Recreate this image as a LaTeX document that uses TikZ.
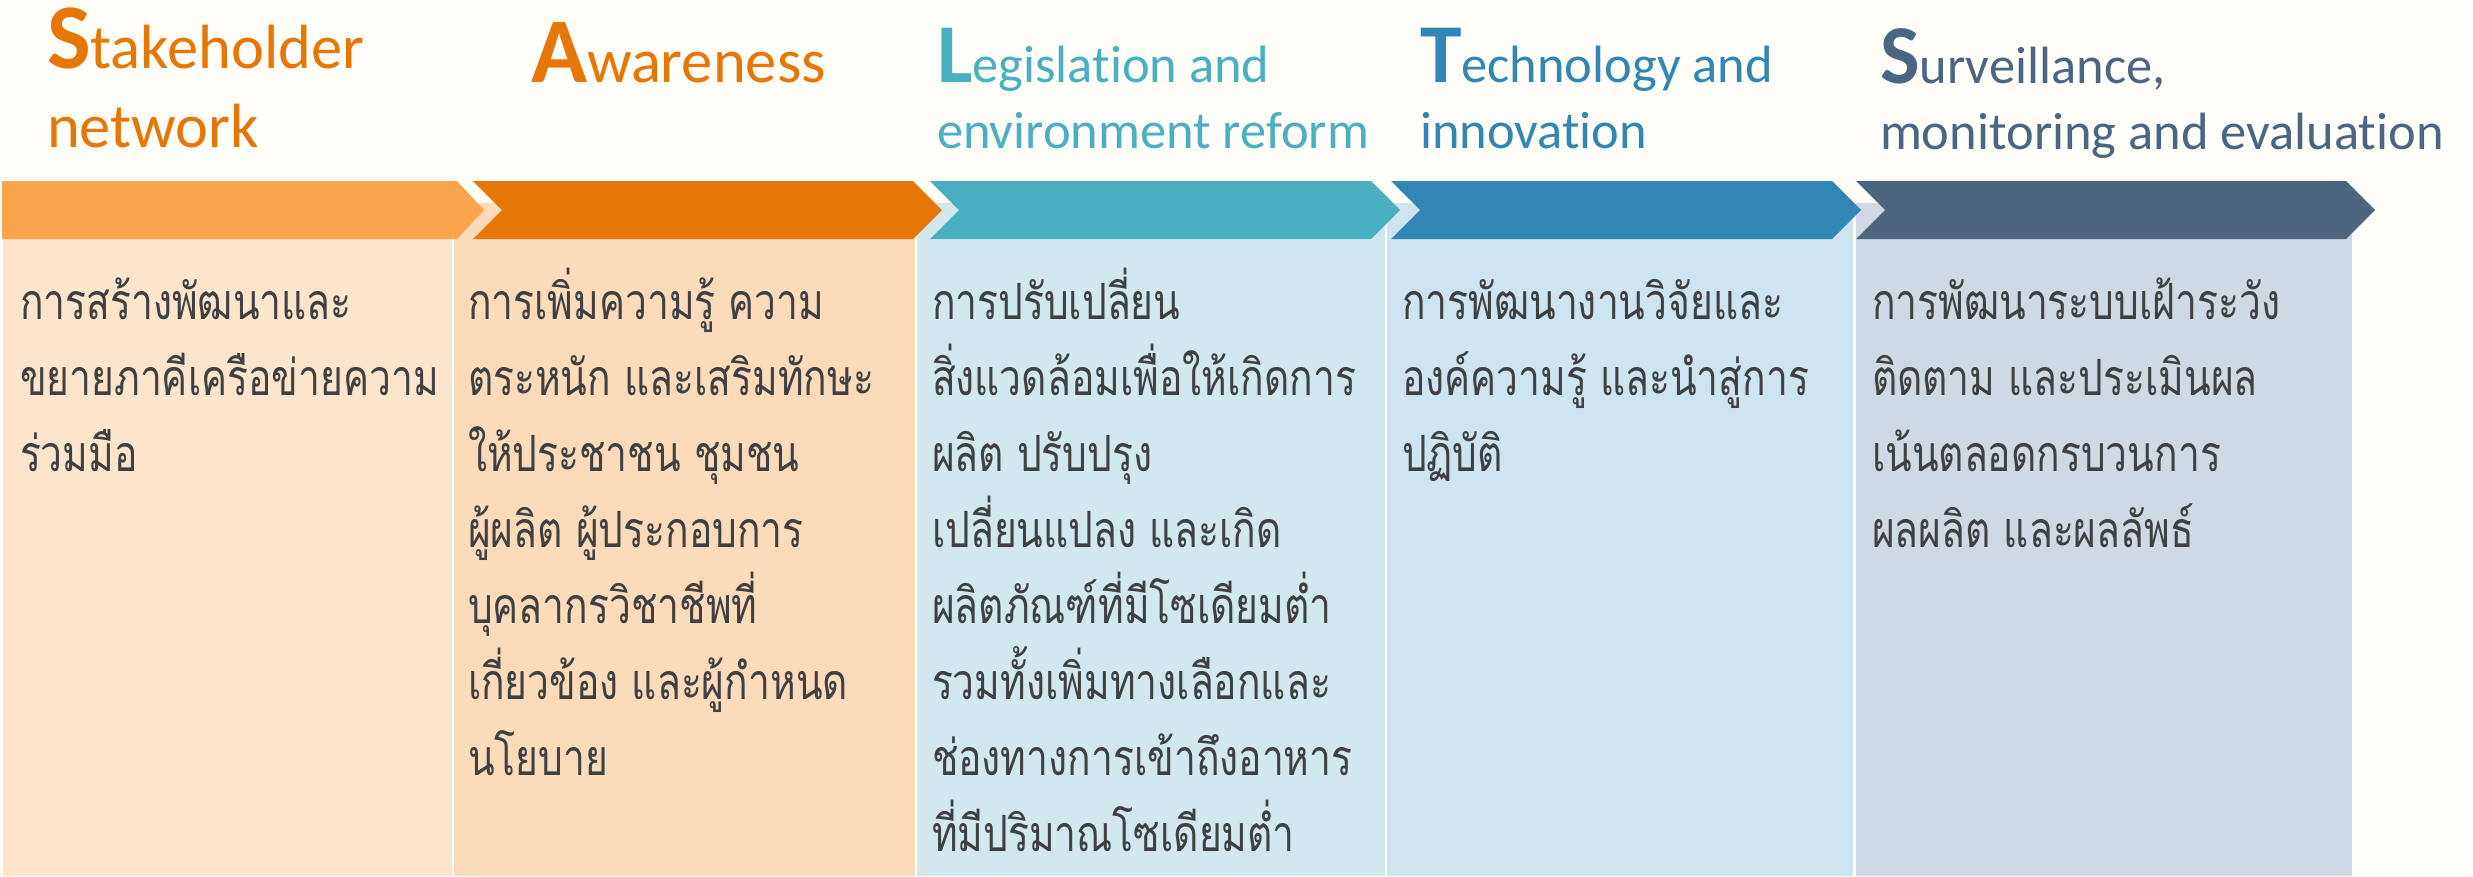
\documentclass[tikz,border=0pt]{standalone}
\usepackage{fontspec}
\setmainfont{Carlito}[Ligatures=NoCommon]
\newfontfamily\thaifont[Script=Thai,FakeStretch=0.78]{Loma}
\definecolor{bgc}{HTML}{FFFDF8}
\definecolor{boxA}{HTML}{FDE5CC}
\definecolor{boxB}{HTML}{FCDBBA}
\definecolor{boxC}{HTML}{D0E8EE}
\definecolor{boxD}{HTML}{CDE5F1}
\definecolor{boxE}{HTML}{CFD9E3}
\definecolor{chevA}{HTML}{F8A54B}
\definecolor{chevB}{HTML}{E67707}
\definecolor{chevC}{HTML}{4AAFC1}
\definecolor{chevD}{HTML}{3286B3}
\definecolor{chevE}{HTML}{4C6681}
\definecolor{bodytext}{HTML}{404040}
\newcommand\IniL[1]{{\fontsize{37}{37}\selectfont\bfseries #1}}
\newcommand\IniS[1]{{\fontsize{33.5}{33.5}\selectfont\bfseries #1}}
\tikzset{
  titlebig/.style={anchor=base west, inner sep=0pt, outer sep=0pt,
    font=\fontsize{25}{31.6}\selectfont},
  titletext/.style={anchor=base west, inner sep=0pt, outer sep=0pt,
    font=\fontsize{21}{26.4}\selectfont},
  bodybox/.style={anchor=base west, inner sep=0pt, outer sep=0pt, text=bodytext,
    font=\thaifont\fontsize{20}{30.4}\selectfont}
}
\begin{document}
\begin{tikzpicture}[x=0.4pt,y=-0.4pt]
\useasboundingbox (0,0) rectangle (2473,876);
\fill[bgc] (0,0) rectangle (2473,876);
% content boxes
\fill[boxA] (3,203) rectangle (452,876);
\fill[boxB] (454,203) rectangle (915,876);
\fill[boxC] (917,203) rectangle (1385,876);
\fill[boxD] (1387,203) rectangle (1853,876);
\fill[boxE] (1856,203) rectangle (2352,876);
% chevrons
\fill[chevA] (2,181) -- (457,181) -- (484,210) -- (457,239) -- (2,239) -- cycle;
\fill[chevB] (473,181) -- (913,181) -- (942,210) -- (913,239) -- (473,239) -- (502,210) -- cycle;
\fill[chevC] (930,181) -- (1371,181) -- (1400,210) -- (1371,239) -- (930,239) -- (959,210) -- cycle;
\fill[chevD] (1391,181) -- (1832,181) -- (1861,210) -- (1832,239) -- (1391,239) -- (1420,210) -- cycle;
\fill[chevE] (1856,181) -- (2346,181) -- (2375,210) -- (2346,239) -- (1856,239) -- (1885,210) -- cycle;
% titles
\node[titlebig, text=chevB] (t1) at (47,68) {\parbox[t]{400pt}{\IniL{S}takeholder\\network}};
\node[titlebig, text=chevB] (t2) at (531,82) {\parbox[t]{400pt}{\IniL{A}wareness}};
\node[titletext, text=chevC] (t3) at (937,82) {\parbox[t]{400pt}{\IniS{L}egislation and\\environment reform}};
\node[titletext, text=chevD] (t4) at (1420,82) {\parbox[t]{400pt}{\IniS{T}echnology and\\innovation}};
\node[titletext, text=chevE] (t5) at (1880,83) {\parbox[t]{400pt}{\IniS{S}urveillance,\\monitoring and evaluation}};
% body texts
\node[bodybox] (b1) at (20,319) {\parbox[t]{400pt}{การสร้างพัฒนาและ\\ขยายภาคีเครือข่ายความ\\ร่วมมือ}};
\node[bodybox] (b2) at (468,319) {\parbox[t]{400pt}{การเพิ่มความรู้ ความ\\ตระหนัก และเสริมทักษะ\\ให้ประชาชน ชุมชน\\ผู้ผลิต ผู้ประกอบการ\\บุคลากรวิชาชีพที่\\เกี่ยวข้อง และผู้กำหนด\\นโยบาย}};
\node[bodybox] (b3) at (932,319) {\parbox[t]{400pt}{การปรับเปลี่ยน\\สิ่งแวดล้อมเพื่อให้เกิดการ\\ผลิต ปรับปรุง\\เปลี่ยนแปลง และเกิด\\ผลิตภัณฑ์ที่มีโซเดียมต่ำ\\รวมทั้งเพิ่มทางเลือกและ\\ช่องทางการเข้าถึงอาหาร\\ที่มีปริมาณโซเดียมต่ำ}};
\node[bodybox] (b4) at (1402,319) {\parbox[t]{400pt}{การพัฒนางานวิจัยและ\\องค์ความรู้ และนำสู่การ\\ปฏิบัติ}};
\node[bodybox] (b5) at (1872,319) {\parbox[t]{400pt}{การพัฒนาระบบเฝ้าระวัง\\ติดตาม และประเมินผล\\เน้นตลอดกรบวนการ\\ผลผลิต และผลลัพธ์}};
\end{tikzpicture}
\end{document}
